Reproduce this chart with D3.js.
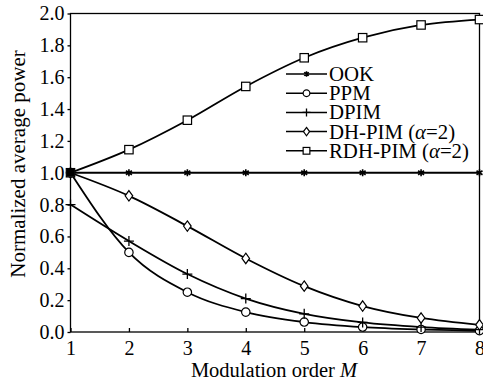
<!DOCTYPE html>
<html>
<head>
<meta charset="utf-8">
<script src="https://cdn.jsdelivr.net/npm/d3@7"></script>
<style>
body { margin: 0; background: #fff; }
</style>
</head>
<body>
<script>
var orders = [1, 2, 3, 4, 5, 6, 7, 8];
var ook = [1, 1, 1, 1, 1, 1, 1, 1];
var ppm = [1, 0.5, 0.25, 0.125, 0.0625, 0.031, 0.016, 0.008];
var dpim = [0.8, 0.571, 0.364, 0.21, 0.114, 0.06, 0.031, 0.015];
var dhpim = [1, 0.855, 0.665, 0.462, 0.288, 0.163, 0.088, 0.045];
var rdhpim = [1, 1.145, 1.33, 1.542, 1.722, 1.848, 1.928, 1.962];
var yTicks = [0, 0.2, 0.4, 0.6, 0.8, 1.0, 1.2, 1.4, 1.6, 1.8, 2.0];
var seriesNames = ['OOK', 'PPM', 'DPIM', 'DH-PIM', 'RDH-PIM'];
var seriesMarks = ['star', 'circle', 'plus', 'diamond', 'square'];

var width = 483, height = 392;
var plotLeft = 70.5, plotRight = 479.5, plotTop = 13.5, plotBottom = 332;
var serif = '"Liberation Serif"';

var svg = d3.select('body').append('svg')
	.attr('width', width)
	.attr('height', height);

var x = d3.scaleLinear().domain([1, 8]).range([plotLeft, plotRight]);
var y = d3.scaleLinear().domain([0, 2]).range([plotBottom, plotTop]);

var allSeries = [ook, ppm, dpim, dhpim, rdhpim];

// frame
svg.append('rect')
	.attr('x', plotLeft).attr('y', plotTop)
	.attr('width', plotRight - plotLeft).attr('height', plotBottom - plotTop)
	.attr('fill', 'none').attr('stroke', '#000').attr('stroke-width', 1.3);

// y axis
var yAxis = svg.append('g')
	.attr('transform', 'translate(' + plotLeft + ',0)')
	.call(d3.axisLeft(y).tickValues(yTicks).tickFormat(d3.format('.1f')).tickSize(3).tickPadding(3));
yAxis.select('.domain').remove();
yAxis.selectAll('line').attr('stroke-width', 1.3);
yAxis.selectAll('text').style('font-family', serif).style('font-size', '20px');

// x axis, ticks inward
var xAxis = svg.append('g')
	.attr('transform', 'translate(0,' + plotBottom + ')')
	.call(d3.axisTop(x).tickValues(orders).tickFormat(d3.format('d')).tickSize(4));
xAxis.select('.domain').remove();
xAxis.selectAll('line').attr('stroke-width', 1.3);
xAxis.selectAll('text').attr('y', 23).style('font-family', serif).style('font-size', '20px');

// axis titles
var xt = svg.append('text')
	.attr('x', (plotLeft + plotRight) / 2 - 1).attr('y', 377)
	.attr('text-anchor', 'middle')
	.style('font-family', serif).style('font-size', '20.5px');
xt.append('tspan').text('Modulation order ');
xt.append('tspan').style('font-style', 'italic').text('M');

svg.append('text')
	.attr('transform', 'translate(25,164) rotate(-90)')
	.attr('text-anchor', 'middle')
	.style('font-family', serif).style('font-size', '21px')
	.text('Normalized average power');

var line = d3.line()
	.x(function(d, i) { return x(orders[i]); })
	.y(function(d) { return y(d); })
	.curve(d3.curveMonotoneX);

svg.selectAll('path.series')
	.data(allSeries)
	.enter()
	.append('path')
	.attr('class', 'series')
	.attr('d', line)
	.attr('fill', 'none')
	.attr('stroke', '#000')
	.attr('stroke-width', 1.8);

function drawMark(g, kind, s) {
	if (kind == 'circle') {
		g.append('circle').attr('r', 4.2 * s).attr('fill', '#fff').attr('stroke', '#000').attr('stroke-width', 1.2);
	} else if (kind == 'square') {
		g.append('rect').attr('x', -4.2 * s).attr('y', -4.2 * s).attr('width', 8.4 * s).attr('height', 8.4 * s)
			.attr('fill', '#fff').attr('stroke', '#000').attr('stroke-width', 1.2);
	} else if (kind == 'diamond') {
		g.append('path').attr('d', 'M0,' + (-5.2 * s) + 'L' + (3.8 * s) + ',0L0,' + (5.2 * s) + 'L' + (-3.8 * s) + ',0Z')
			.attr('fill', '#fff').attr('stroke', '#000').attr('stroke-width', 1.2);
	} else if (kind == 'plus') {
		g.append('path').attr('d', 'M0,' + (-5 * s) + 'V' + (5 * s) + 'M' + (-5 * s) + ',0H' + (5 * s))
			.attr('stroke', '#000').attr('stroke-width', 1.3);
	} else if (kind == 'star') {
		g.append('path').attr('d', 'M0,' + (-3.5 * s) + 'V' + (3.5 * s) +
				'M' + (-3 * s) + ',' + (-2 * s) + 'L' + (3 * s) + ',' + (2 * s) +
				'M' + (-3 * s) + ',' + (2 * s) + 'L' + (3 * s) + ',' + (-2 * s))
			.attr('stroke', '#000').attr('stroke-width', 1.6);
	}
}

allSeries.forEach(function(vals, k) {
	vals.forEach(function(v, i) {
		var g = svg.append('g').attr('transform', 'translate(' + x(orders[i]) + ',' + y(v) + ')');
		drawMark(g, seriesMarks[k], 1);
	});
});

// overlapping start point shows as a solid block
svg.append('rect')
	.attr('x', x(1) - 4).attr('y', y(1) - 4)
	.attr('width', 8).attr('height', 8)
	.attr('fill', '#000');

// legend
var legend = svg.append('g').attr('transform', 'translate(286,74)');
seriesNames.forEach(function(name, k) {
	var row = legend.append('g').attr('transform', 'translate(0,' + (k * 19.2) + ')');
	row.append('line').attr('x1', 0).attr('x2', 41).attr('y1', 0).attr('y2', 0)
		.attr('stroke', '#000').attr('stroke-width', 1.5);
	var m = row.append('g').attr('transform', 'translate(20.5,0)');
	drawMark(m, seriesMarks[k], 0.8);
	var t = row.append('text').attr('x', 43).attr('y', 7)
		.style('font-family', serif).style('font-size', '20.8px');
	t.append('tspan').text(name);
	if (k >= 3) {
		t.append('tspan').text(' (');
		t.append('tspan').style('font-style', 'italic').text('α');
		t.append('tspan').text('=2)');
	}
});
</script>
</body>
</html>
